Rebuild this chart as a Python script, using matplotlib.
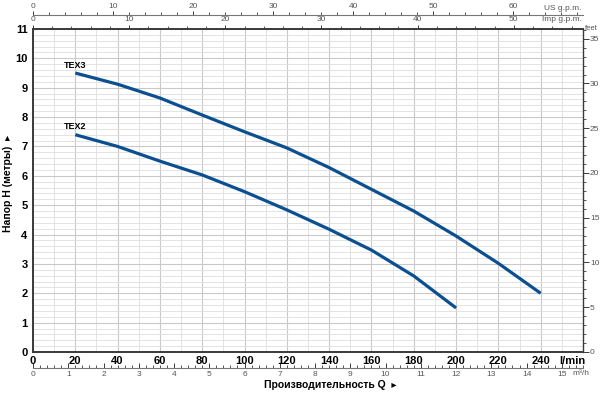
import matplotlib
matplotlib.use('Agg')
import matplotlib.pyplot as plt
import numpy as np
from matplotlib.ticker import MultipleLocator

plt.rcParams['font.family'] = ['Liberation Sans Narrow', 'Liberation Sans', 'DejaVu Sans']

# --- Data ---
q_tex3 = [20, 40, 60, 80, 100, 120, 140, 160, 180, 200, 220, 240]
h_tex3 = [9.5, 9.12, 8.65, 8.07, 7.5, 6.95, 6.28, 5.54, 4.8, 3.95, 3.02, 2.0]
q_tex2 = [20, 40, 60, 80, 100, 120, 140, 160, 180, 200]
h_tex2 = [7.4, 7.0, 6.5, 6.03, 5.46, 4.84, 4.18, 3.47, 2.59, 1.5]
x_ticks = list(range(0, 241, 20))
y_ticks = list(range(0, 12))
us_ticks = list(range(0, 61, 10))
imp_ticks = list(range(0, 51, 10))
m3_ticks = list(range(0, 16))
ft_ticks = list(range(0, 36, 5))

blue = '#0b4f91'
dark = '#3a3a3a'
grey_txt = '#555555'

fig = plt.figure(figsize=(6, 3.94), dpi=100)
ax = fig.add_axes([33/600, 1-352/394, 550/600, 323/394])

ax.plot(q_tex3, h_tex3, color=blue, lw=2.3, solid_capstyle='butt')
ax.plot(q_tex2, h_tex2, color=blue, lw=2.3, solid_capstyle='butt')
ax.text(20, 9.62, 'TEX3', fontsize=6.5, fontweight='bold', ha='center', va='bottom')
ax.text(20, 7.52, 'TEX2', fontsize=6.5, fontweight='bold', ha='center', va='bottom')

ax.set_xlim(0, 260)
ax.set_ylim(0, 11)
ax.set_xticks(x_ticks)
ax.set_yticks(y_ticks)
ax.xaxis.set_minor_locator(MultipleLocator(10))
ax.yaxis.set_minor_locator(MultipleLocator(0.2))
ax.grid(which='minor', color='#dedede', lw=0.6)
ax.grid(which='major', color='#c9c9c9', lw=0.8)
ax.set_axisbelow(True)
ax.tick_params(which='both', length=0)
ax.tick_params(axis='x', labelsize=8, pad=3)
ax.tick_params(axis='y', labelsize=8, pad=4)
for lab in ax.get_xticklabels() + ax.get_yticklabels():
    lab.set_fontweight('bold')
for side in ['left', 'bottom', 'top', 'right']:
    ax.spines[side].set_color(dark)
    ax.spines[side].set_linewidth(1.4)
ax.spines['right'].set_linewidth(1.0)
ax.text(255, -0.12, 'l/min', fontsize=8, fontweight='bold', ha='center', va='top')

fig.text(0.014, 0.535, 'Напор H (метры)  ▸', rotation=90, fontsize=7.5, fontweight='bold',
         ha='center', va='center')
fig.text(0.551, 0.022, 'Производительность Q  ▸', fontsize=7.5, fontweight='bold',
         ha='center', va='center')

small = dict(labelsize=6, labelcolor=grey_txt, colors=dark)

# top: Imp gpm
imp = ax.secondary_xaxis('top', functions=(lambda x: x / 4.546, lambda x: x * 4.546))
imp.set_xticks(imp_ticks)
imp.set_xticks(np.arange(0, 57, 2), minor=True)
imp.tick_params(which='major', length=3, width=0.7, pad=1, **small)
imp.tick_params(which='minor', length=2, width=0.6, colors=dark)
imp.spines['top'].set_visible(False)
ax.text(0.998, 1.02, 'Imp g.p.m.', transform=ax.transAxes, fontsize=6, color=grey_txt,
        ha='right', va='bottom')

# top: US gpm
us = ax.secondary_xaxis(1 + 14/323, functions=(lambda x: x / 3.785, lambda x: x * 3.785))
us.set_xticks(us_ticks)
us.set_xticks(np.arange(0, 69, 2), minor=True)
us.tick_params(which='major', length=3, width=0.7, pad=0.5, **small)
us.tick_params(which='minor', length=2, width=0.6, colors=dark)
us.spines['top'].set_color('#777777')
us.spines['top'].set_linewidth(0.8)
ax.text(0.998, 1 + 17/323, 'US g.p.m.', transform=ax.transAxes, fontsize=6, color=grey_txt,
        ha='right', va='bottom')

# bottom: m3/h
m3 = ax.secondary_xaxis(-16/323, functions=(lambda x: x * 0.06, lambda x: x / 0.06))
m3.set_xticks(m3_ticks)
m3.set_xticks(np.arange(0, 15.61, 0.2), minor=True)
m3.tick_params(which='major', direction='in', length=3.5, width=0.7, pad=2, **small)
m3.tick_params(which='minor', direction='in', length=2, width=0.6, colors=dark)
m3.spines['bottom'].set_color('#777777')
m3.spines['bottom'].set_linewidth(0.8)
ax.text(259, -0.62, 'm³/h', fontsize=6, color=grey_txt, ha='center', va='top')

# right: feet
ft = ax.secondary_yaxis('right', functions=(lambda m: m * 3.2808, lambda f: f / 3.2808))
ft.set_yticks(ft_ticks)
ft.set_yticks(np.arange(0, 37, 1), minor=True)
ft.tick_params(which='major', length=4, width=0.7, pad=1, **small)
ft.tick_params(which='minor', length=2.5, width=0.6, colors=dark)
ft.spines['right'].set_visible(False)
ax.text(1.004, 1.0, 'feet', transform=ax.transAxes, fontsize=5.5, color=grey_txt,
        ha='left', va='center')

fig.savefig('out.png', dpi=100)
